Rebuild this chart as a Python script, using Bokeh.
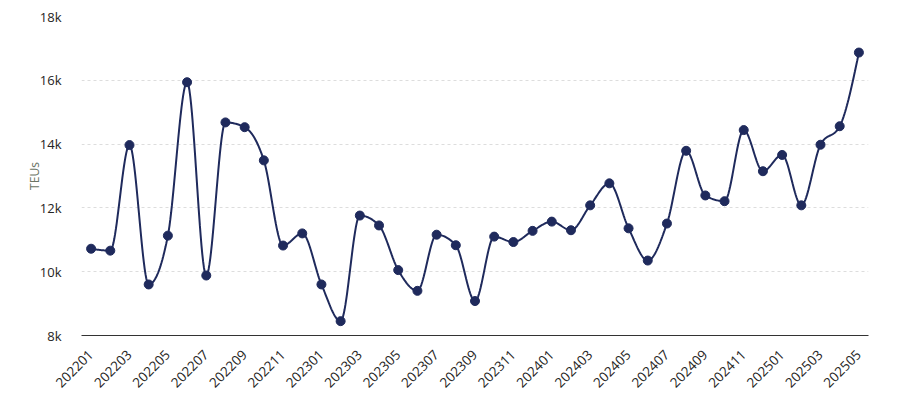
import numpy as np
from bokeh.plotting import figure
from bokeh.models import Range1d, FixedTicker
from bokeh.embed import file_html
from bokeh.resources import INLINE

months = ["202201", "202202", "202203", "202204", "202205", "202206", "202207", "202208",
          "202209", "202210", "202211", "202212", "202301", "202302", "202303", "202304",
          "202305", "202306", "202307", "202308", "202309", "202310", "202311", "202312",
          "202401", "202402", "202403", "202404", "202405", "202406", "202407", "202408",
          "202409", "202410", "202411", "202412", "202501", "202502", "202503", "202504",
          "202505"]
teus = [10720, 10660, 13970, 9600, 11130, 15940, 9880, 14680,
        14530, 13490, 10820, 11200, 9600, 8450, 11760, 11450,
        10050, 9400, 11160, 10830, 9080, 11100, 10930, 11280,
        11570, 11300, 12080, 12770, 11360, 10350, 11510, 13790,
        12390, 12210, 14440, 13150, 13660, 12080, 13980, 14560,
        16870]
y_ticks = [8000, 10000, 12000, 14000, 16000, 18000]
y_tick_labels = ["8k", "10k", "12k", "14k", "16k", "18k"]

x = np.arange(len(months), dtype=float)
y = np.array(teus, dtype=float)
n = len(y)

# monotone-x cubic smoothing (as d3.curveMonotoneX) for the line rendering
s = np.diff(y)  # h = 1
tan = np.zeros(n)
for i in range(1, n - 1):
    s0, s1 = s[i - 1], s[i]
    pp = (s0 + s1) / 2.0
    tan[i] = (np.sign(s0) + np.sign(s1)) * min(abs(s0), abs(s1), 0.5 * abs(pp))
tan[0] = (3 * s[0] - tan[1]) / 2.0
tan[-1] = (3 * s[-1] - tan[-2]) / 2.0

xs, ys = [], []
t = np.linspace(0, 1, 25)
h00 = 2 * t**3 - 3 * t**2 + 1
h10 = t**3 - 2 * t**2 + t
h01 = -2 * t**3 + 3 * t**2
h11 = t**3 - t**2
for i in range(n - 1):
    seg = h00 * y[i] + h10 * tan[i] + h01 * y[i + 1] + h11 * tan[i + 1]
    last = i == n - 2
    xs.extend(x[i] + t if last else (x[i] + t)[:-1])
    ys.extend(seg if last else seg[:-1])

p = figure(width=890, height=402, output_backend="svg", toolbar_location=None,
           x_range=Range1d(-0.5, n - 0.5), y_range=Range1d(8000, 18000),
           min_border_left=81, min_border_right=22, min_border_top=16, min_border_bottom=67)
p.outline_line_color = None
p.background_fill_color = "white"
p.border_fill_color = "white"

line_color = "#1F2A5C"
p.line(xs, ys, line_color=line_color, line_width=2)
p.scatter(x, y, size=9, fill_color=line_color, line_color=line_color)

font = "Open Sans"
p.xaxis.ticker = FixedTicker(ticks=list(range(0, n, 2)))
p.xaxis.major_label_overrides = {i: months[i] for i in range(0, n, 2)}
p.xaxis.major_label_orientation = np.pi / 4
p.xaxis.major_tick_line_color = None
p.xaxis.minor_tick_line_color = None
p.xaxis.axis_line_color = "#333333"
p.xaxis.major_label_text_font = font
p.xaxis.major_label_text_font_size = "13.5px"
p.xaxis.major_label_text_color = "#252423"
p.xaxis.major_label_standoff = 11

p.yaxis.ticker = FixedTicker(ticks=y_ticks)
p.yaxis.major_label_overrides = {v: l for v, l in zip(y_ticks, y_tick_labels)}
p.yaxis.axis_line_color = None
p.yaxis.major_tick_line_color = None
p.yaxis.minor_tick_line_color = None
p.yaxis.major_label_text_font = font
p.yaxis.major_label_text_font_size = "13px"
p.yaxis.major_label_text_color = "#252423"
p.yaxis.major_label_standoff = 14
p.yaxis.axis_label = "TEUs"
p.yaxis.axis_label_text_font = font
p.yaxis.axis_label_text_font_style = "normal"
p.yaxis.axis_label_text_font_size = "12px"
p.yaxis.axis_label_text_color = "#6A7465"
p.yaxis.axis_label_standoff = -6

p.xgrid.grid_line_color = None
p.ygrid.grid_line_color = "#DDDDDD"
p.ygrid.grid_line_dash = "3 3"

open("out.html", "w").write(file_html(p, INLINE))
